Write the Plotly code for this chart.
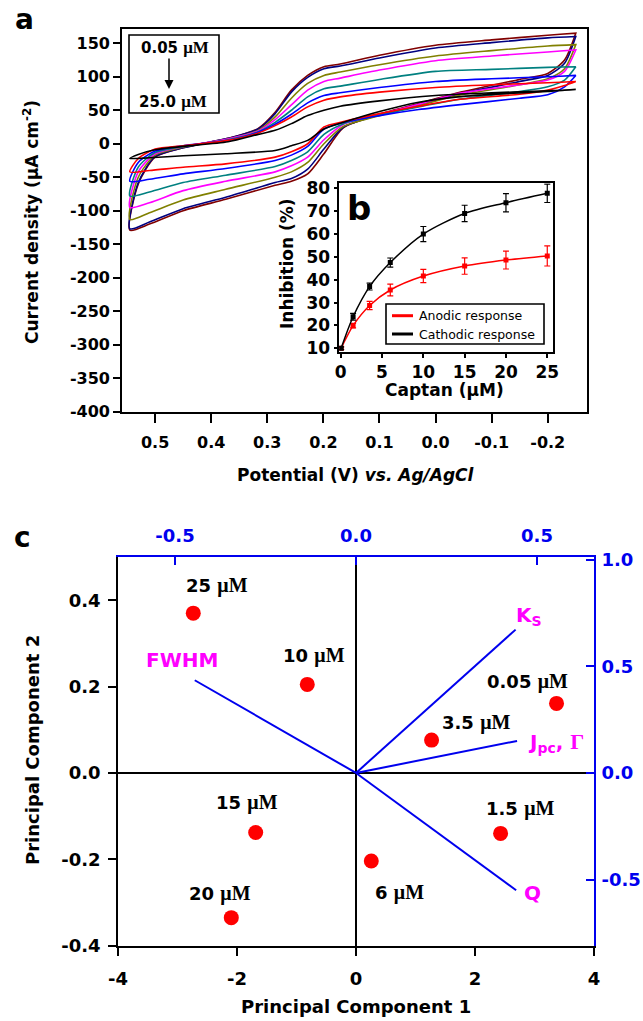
import plotly.graph_objects as go

W, H = 643, 1021


def px(x):
    return x / W


def py(y):
    return 1 - y / H


FONT = "DejaVu Sans"

# ---------------- Panel a : cyclic voltammograms ----------------
E_upper = [0.545, 0.53, 0.50, 0.45, 0.37, 0.316, 0.286, 0.257, 0.228, 0.199, 0.17, 0.10, 0.0, -0.10, -0.20, -0.25]
E_lower = [-0.25, -0.23, -0.20, -0.15, -0.04, 0.03, 0.10, 0.164, 0.199, 0.228, 0.257, 0.286, 0.374, 0.45, 0.51, 0.545]

cv_concentrations = ["0.05", "1.5", "3.5", "6", "10", "15", "20", "25.0"]
cv_colors = ["#800000", "#000080", "#808000", "#ff00ff", "#008080", "#0000ff", "#ff0000", "#000000"]

up_0_05 = [-129, -60, -20, -6, 8, 23, 47, 80, 102, 115, 119, 132, 147, 155, 162, 165]
low_0_05 = [165, 125, 105, 96, 76, 60, 44, 24, -15, -45, -56, -62, -83, -100, -120, -129]
up_1_5 = [-127, -58, -19, -6, 8, 22, 45, 77, 99, 112, 116, 128, 143, 151, 158, 160]
low_1_5 = [160, 120, 102, 93, 74, 58, 43, 25, -8, -38, -52, -58, -80, -97, -117, -127]
up_3_5 = [-113, -50, -17, -5, 7, 20, 40, 68, 90, 102, 107, 118, 131, 139, 146, 148]
low_3_5 = [148, 112, 97, 88, 72, 57, 42, 26, 0, -28, -42, -50, -68, -84, -103, -113]
up_6 = [-95, -42, -15, -4, 7, 19, 36, 58, 80, 93, 98, 110, 124, 131, 137, 140]
low_6 = [140, 108, 95, 88, 75, 59, 44, 29, 6, -20, -33, -42, -56, -70, -88, -95]
up_10 = [-78, -35, -13, -4, 6, 18, 32, 50, 70, 82, 86, 96, 108, 111, 114, 115]
low_10 = [115, 95, 85, 78, 66, 55, 43, 30, 14, -12, -25, -34, -47, -58, -72, -78]
up_15 = [-56, -28, -11, -3, 5, 17, 29, 44, 61, 72, 76, 84, 93, 97, 100, 102]
low_15 = [102, 85, 73, 68, 58, 51, 42, 32, 22, -4, -17, -25, -37, -45, -53, -56]
up_20 = [-42, -22, -8, -3, 5, 16, 27, 40, 55, 65, 70, 77, 84, 88, 91, 93]
low_20 = [93, 87, 80, 74, 66, 56, 45, 33, 25, 0, -12, -20, -30, -35, -40, -42]
up_25 = [-22, -16, -9, -4, 3, 14, 20, 30, 42, 50, 56, 64, 72, 76, 79, 81]
low_25 = [81, 80, 78, 76, 70, 62, 48, 32, 22, 5, -3, -10, -15, -18, -21, -22]

cv_upper = [up_0_05, up_1_5, up_3_5, up_6, up_10, up_15, up_20, up_25]
cv_lower = [low_0_05, low_1_5, low_3_5, low_6, low_10, low_15, low_20, low_25]

a_xticks = [0.5, 0.4, 0.3, 0.2, 0.1, 0.0, -0.1, -0.2]
a_xlabels = ["0.5", "0.4", "0.3", "0.2", "0.1", "0.0", "-0.1", "-0.2"]
a_yticks = [150, 100, 50, 0, -50, -100, -150, -200, -250, -300, -350, -400]
a_ylabels = [str(v) for v in a_yticks]

# ---------------- Panel b : inhibition inset ----------------
captan = [0.05, 1.5, 3.5, 6, 10, 15, 20, 25]
anodic = [10, 19.9, 28.7, 35.5, 41.6, 46.0, 48.6, 50.4]
anodic_err = [0.6, 1.0, 1.8, 2.6, 2.9, 3.6, 3.9, 4.4]
cathodic = [10, 23.8, 37.0, 47.5, 60.0, 69.0, 73.7, 77.8]
cathodic_err = [0.6, 1.5, 1.5, 2.0, 3.3, 3.6, 4.0, 4.0]
b_series = ["Anodic response", "Cathodic response"]
b_colors = ["#ff0000", "#000000"]
b_xticks = [0, 5, 10, 15, 20, 25]
b_yticks = [10, 20, 30, 40, 50, 60, 70, 80]

# ---------------- Panel c : PCA biplot ----------------
pc_labels = ["25", "10", "15", "20", "0.05", "3.5", "1.5", "6"]
pc1 = [-2.735, -0.819, -1.686, -2.096, 3.37, 1.27, 2.43, 0.257]
pc2 = [0.370, 0.205, -0.138, -0.335, 0.161, 0.076, -0.140, -0.204]
pc_label_dx = [24, 7, -9, -11, -29, 44, 19, 28]
pc_label_dy = [28, 29, 30, 24, 22, 18, 25, -31]

load_names = ["K<sub>S</sub>",
              "J<sub>pc</sub>, <span style='font-family:Liberation Serif;font-size:22px'>Γ</span>",
              "Q", "FWHM"]
load_x = [0.441, 0.445, 0.4425, -0.4455]
load_y = [0.672, 0.150, -0.550, 0.4346]
load_dx = [13, 39, 16, -13]
load_dy = [14, -2, -3, 20]

c_xticks = [-4, -2, 0, 2, 4]
c_xlabels = ["-4", "-2", "0", "2", "4"]
c_yticks = [-0.4, -0.2, 0.0, 0.2, 0.4]
c_ylabels = ["-0.4", "-0.2", "0.0", "0.2", "0.4"]
c_x2ticks = [-0.5, 0.0, 0.5]
c_x2labels = ["-0.5", "0.0", "0.5"]
c_y2ticks = [-0.5, 0.0, 0.5, 1.0]
c_y2labels = ["-0.5", "0.0", "0.5", "1.0"]

fig = go.Figure()

# CV loops
for up, low, col, conc in zip(cv_upper, cv_lower, cv_colors, cv_concentrations):
    fig.add_trace(go.Scatter(
        x=E_upper + E_lower, y=up + low, mode="lines",
        line=dict(color=col, width=1.6, shape="spline", smoothing=0.7),
        name=conc + " μM", showlegend=False, xaxis="x", yaxis="y", hoverinfo="skip"))

# Inset curves
for vals, errs, col, nm in zip([anodic, cathodic], [anodic_err, cathodic_err], b_colors, b_series):
    fig.add_trace(go.Scatter(
        x=captan, y=vals, mode="lines+markers", name=nm,
        line=dict(color=col, width=1.5, shape="spline", smoothing=0.8),
        marker=dict(symbol="square", size=5, color=col),
        error_y=dict(type="data", array=errs, color=col, thickness=1.2, width=3),
        showlegend=False, xaxis="x2", yaxis="y2"))

# PCA loadings (blue lines)
for lx, ly in zip(load_x, load_y):
    fig.add_trace(go.Scatter(x=[0, lx], y=[0, ly], mode="lines",
                             line=dict(color="#0000ee", width=2),
                             showlegend=False, xaxis="x4", yaxis="y4"))
# PCA scores
fig.add_trace(go.Scatter(x=pc1, y=pc2, mode="markers",
                         marker=dict(color="#ff0000", size=15),
                         showlegend=False, xaxis="x3", yaxis="y3"))

ann = []
umf_c = "<span style='font-family:Liberation Serif;font-size:20px'>μM</span>"
umf_a = "<span style='font-family:Liberation Serif;font-size:17px'>μM</span>"
for lab, x, y, dx, dy in zip(pc_labels, pc1, pc2, pc_label_dx, pc_label_dy):
    ann.append(dict(x=x, y=y, xref="x3", yref="y3", xshift=dx, yshift=dy,
                    text="<b>" + lab + " " + umf_c + "</b>", showarrow=False,
                    font=dict(family=FONT, size=18, color="black")))
for name, x, y, dx, dy in zip(load_names, load_x, load_y, load_dx, load_dy):
    ann.append(dict(x=x, y=y, xref="x4", yref="y4", xshift=dx, yshift=dy,
                    text="<b>" + name + "</b>", showarrow=False,
                    font=dict(family=FONT, size=20, color="#ff00ff")))


def pann(x, y, text, size=17, color="black", angle=0, weight="bold", xanchor="center"):
    return dict(x=px(x), y=py(y), xref="paper", yref="paper", text=text, showarrow=False,
                textangle=angle, xanchor=xanchor, yanchor="middle",
                font=dict(family=FONT, size=size, color=color, weight=weight))


ann += [
    pann(24, 20, "a", size=28),
    pann(359, 208, "b", size=34),
    pann(22, 537, "c", size=28),
    pann(31, 222, "Current density (μA cm<sup>-2</sup>)", size=17, angle=-90),
    pann(356, 475, "Potential (V) <i>vs. Ag/AgCl</i>", size=17),
    pann(287, 264, "Inhibition (%)", size=17, angle=-90),
    pann(444, 390, "Captan (μM)", size=17),
    pann(32, 750, "Principal Component 2", size=18, angle=-90),
    pann(356, 1006, "Principal Component 1", size=18),
    pann(175, 48, "0.05 " + umf_a, size=15),
    pann(173, 102, "25.0 " + umf_a, size=15),
]
# inset legend entries
leg_y = [315.7, 334.0]
for nm, yy in zip(b_series, leg_y):
    ann.append(pann(417, yy, nm, size=12.5, weight="normal", xanchor="left"))
ann.append(dict(x=px(169), y=py(89), xref="paper", yref="paper", text="", showarrow=True,
                ax=0, ay=-32, axref="pixel", ayref="pixel", arrowhead=2, arrowsize=1.2,
                arrowwidth=1.5, arrowcolor="black"))

shapes = [
    dict(type="rect", xref="paper", yref="paper", x0=px(129), x1=px(219),
         y0=py(113), y1=py(35), line=dict(color="black", width=1.6)),
    dict(type="rect", xref="paper", yref="paper", x0=px(386), x1=px(544),
         y0=py(344), y1=py(304), line=dict(color="black", width=1.6), fillcolor="white",
         layer="above"),
]
for col, yy in zip(b_colors, leg_y):
    shapes.append(dict(type="line", xref="paper", yref="paper", x0=px(392), x1=px(413),
                       y0=py(yy), y1=py(yy), line=dict(color=col, width=3)))

BLUE = "#0000ee"
TF = dict(family=FONT, size=16, color="black", weight="bold")
TFI = dict(family=FONT, size=17, color="black", weight="bold")
TFC = dict(family=FONT, size=18, color="black", weight="bold")
TFB = dict(family=FONT, size=18, color=BLUE, weight="bold")


def ax_style(font, **kw):
    d = dict(showgrid=False, zeroline=False, showline=True, linecolor="black", linewidth=1.6,
             tickwidth=1.6, tickcolor="black", tickfont=font, automargin=False)
    d.update(kw)
    return d


fig.update_layout(
    template="plotly_white",
    width=W, height=H, margin=dict(l=0, r=0, t=0, b=0, autoexpand=False),
    paper_bgcolor="white", plot_bgcolor="white",
    showlegend=False,
    annotations=ann,
    shapes=shapes,
    xaxis=ax_style(TF, domain=[px(122), px(587)], anchor="y", range=[0.559, -0.27],
                   tickvals=a_xticks, ticktext=a_xlabels, ticks="outside", ticklen=9,
                   mirror=True, ticklabelstandoff=6),
    yaxis=ax_style(TF, domain=[py(412), py(29)], anchor="x", range=[-400.5, 171.3],
                   tickvals=a_yticks, ticktext=a_ylabels, ticks="outside", ticklen=7,
                   mirror=True),
    xaxis2=ax_style(TFI, domain=[px(339.3), px(553.3)], anchor="y2", range=[-0.17, 25.73],
                    tickvals=b_xticks, ticks="outside", ticklen=4, mirror=True),
    yaxis2=ax_style(TFI, domain=[py(351.7), py(183.3)], anchor="x2", range=[8.5, 82.2],
                    tickvals=b_yticks, ticks="outside", ticklen=4, mirror=True),
    xaxis3=ax_style(TFC, domain=[px(118), px(594)], anchor="y3", range=[-4, 4],
                    tickvals=c_xticks, ticktext=c_xlabels, ticks="outside", ticklen=8,
                    ticklabelstandoff=8, zeroline=True, zerolinecolor="black", zerolinewidth=1.6),
    yaxis3=ax_style(TFC, domain=[py(945.7), py(557)], anchor="x3", range=[-0.4, 0.5],
                    tickvals=c_yticks, ticktext=c_ylabels, ticks="outside", ticklen=8,
                    ticklabelstandoff=4, zeroline=True, zerolinecolor="black", zerolinewidth=1.6),
    xaxis4=ax_style(TFB, overlaying="x3", side="top", anchor="y3", range=[-0.6576, 0.6576],
                    tickvals=c_x2ticks, ticktext=c_x2labels, ticks="inside", ticklen=8,
                    ticklabelstandoff=6, linecolor=BLUE, linewidth=1.8, tickcolor=BLUE),
    yaxis4=ax_style(TFB, overlaying="y3", side="right", anchor="x3", range=[-0.81, 1.0125],
                    tickvals=c_y2ticks, ticktext=c_y2labels, ticks="inside", ticklen=8,
                    ticklabelstandoff=2, linecolor=BLUE, linewidth=1.8, tickcolor=BLUE),
)

fig.write_html("out.html", config={"displayModeBar": False},
               post_script="document.body.style.margin='0px';document.body.style.overflow='hidden';")
